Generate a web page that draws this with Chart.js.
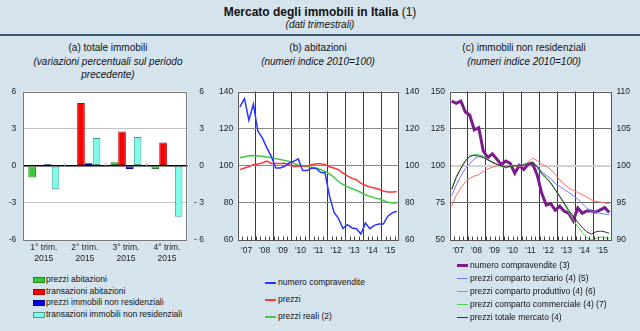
<!DOCTYPE html>
<html><head><meta charset="utf-8">
<script src="https://cdn.jsdelivr.net/npm/chart.js@4/dist/chart.umd.min.js"></script>
<style>
body{margin:0;width:640px;height:331px;background:#d5e3ed;font-family:"Liberation Sans",Arial,sans-serif;color:#111;position:relative;overflow:hidden}
canvas{position:absolute}
.t{position:absolute;white-space:nowrap;transform:translate(-50%,-50%);line-height:1}
.sep{position:absolute;left:0;top:34px;width:640px;height:2px;background:#3b5874}
.lg{position:absolute;white-space:nowrap;font-size:8.5px;line-height:1;color:#111}
.lg i{position:absolute;display:block}
</style></head><body>
<div class="t" style="left:320px;top:12px;font-size:12px;font-weight:bold">Mercato degli immobili in Italia <span style="font-weight:normal">(1)</span></div>
<div class="t" style="left:320px;top:25px;font-size:10px;font-style:italic">(dati trimestrali)</div>
<div class="sep"></div>
<div class="t" style="left:108px;top:48px;font-size:10px">(a) totale immobili</div>
<div class="t" style="left:108px;top:62px;font-size:10px;font-style:italic">(variazioni percentuali sul periodo</div>
<div class="t" style="left:108px;top:75px;font-size:10px;font-style:italic">precedente)</div>
<div class="t" style="left:318px;top:48px;font-size:10px">(b) abitazioni</div>
<div class="t" style="left:318px;top:62px;font-size:10px;font-style:italic">(numeri indice 2010=100)</div>
<div class="t" style="left:524px;top:48px;font-size:10px">(c) immobili non residenziali</div>
<div class="t" style="left:524px;top:62px;font-size:10px;font-style:italic">(numeri indice 2010=100)</div>

<canvas id="ca" width="204" height="180" style="left:0;top:85px"></canvas>
<canvas id="cb" width="220" height="180" style="left:210px;top:85px"></canvas>
<canvas id="cc" width="220" height="180" style="left:420px;top:85px"></canvas>
<div id="legends"></div>
<script>
// ---------- data ----------
const catsA = [["1° trim.","2015"],["2° trim.","2015"],["3° trim.","2015"],["4° trim.","2015"]];
const prezziAbitazioni = [-0.94, 0, 0.29, -0.27];
const transazioniAbitazioni = [0, 5.07, 2.76, 1.88];
const prezziNonRes = [0.13, 0.21, -0.27, -0.05];
const transazioniNonRes = [-1.9, 2.25, 2.33, -4.13];
const ticksA = [-6, -3, 0, 3, 6];

const years = ['2007','2008','2009','2010','2011','2012','2013','2014','2015'];
const quarters = years.flatMap(y => ['I','II','III','IV'].map(q => q + ' ' + y));

const compravenditeAb = [131.7,136.2,124.5,133.3,118.6,115.0,109.6,105.1,98.8,98.8,99.7,101.5,102.4,103.7,97.4,97.4,98.8,98.5,96.5,96.1,83.5,75.0,71.5,66.2,68.3,66.5,66.1,63.2,69.2,66.1,67.9,68.6,68.6,72.8,74.6,75.5];
const prezziAb = [97.9,98.8,99.6,100.5,101.0,101.5,102.5,101.2,101.2,101.2,101.3,100.5,99.6,99.7,99.8,99.8,100.5,101.1,101.1,100.6,99.5,98.8,97.9,96.0,94.5,93.2,92.5,90.5,89.5,88.6,88.0,87.3,86.4,85.9,85.9,86.0];
const prezziRealiAb = [104.3,104.8,105.4,105.5,105.3,105.1,104.7,104.3,103.8,103.4,102.9,102.3,101.2,100.4,100.0,99.6,99.2,98.8,98.0,97.0,95.6,93.8,91.5,89.8,88.6,87.6,86.8,85.6,84.4,83.5,82.7,82.2,81.3,80.3,80.0,80.0];

const compravenditeNR = [143.5,142.0,143.6,136.4,134.0,124.2,125.6,110.0,105.5,108.0,104.5,100.7,103.2,101.6,95.0,100.2,97.4,101.2,101.2,93.7,81.4,73.5,74.5,70.0,72.8,69.4,68.0,62.9,71.6,68.0,69.6,69.6,68.7,70.3,71.8,68.5];
const prezziTerziario = [96.0,97.4,98.6,99.6,100.3,100.9,101.3,101.2,100.8,100.4,100.2,100.0,99.8,100.0,100.0,100.1,100.2,100.3,100.5,100.0,99.2,98.7,98.3,97.6,97.2,96.8,96.4,96.0,95.5,94.9,94.3,93.9,93.7,93.6,93.5,93.4];
const prezziProduttivo = [94.6,96.0,97.0,97.8,98.3,98.6,98.8,99.2,99.6,99.8,100.0,100.0,100.0,100.0,100.0,99.9,100.0,100.5,101.0,100.7,100.2,99.9,99.5,98.8,98.1,97.5,97.0,96.7,96.4,96.1,95.8,95.4,95.2,95.1,95.0,94.9];
const prezziCommerciale = [97.0,98.6,99.7,100.7,101.2,101.5,101.5,101.3,100.9,100.5,100.2,99.9,99.7,99.9,100.0,100.0,100.1,100.3,100.5,99.8,98.8,98.3,97.6,96.7,95.8,94.8,93.7,92.7,91.8,91.0,90.3,90.0,90.2,90.4,90.3,90.2];
const prezziTotale = [96.8,98.4,99.6,100.6,101.3,101.4,101.3,101.1,100.8,100.5,100.2,100.0,99.8,99.9,100.0,100.0,100.1,100.3,100.5,99.8,99.0,98.4,97.7,96.8,95.9,95.0,94.0,93.2,92.4,91.7,91.1,90.8,91.1,91.2,91.1,90.9];

// ---------- setup ----------
Chart.defaults.font.family = '"Liberation Sans", Arial, sans-serif';
Chart.defaults.font.size = 8.5;
Chart.defaults.color = '#222';
Chart.defaults.animation = false;

const fixW = w => s => { s.width = w; s.paddingTop = 0; s.paddingBottom = 0; };
const fixH = h => s => { s.height = h; };

const frame = {
  id: 'frame',
  beforeDraw(chart) {
    const {ctx, chartArea: a} = chart;
    ctx.save(); ctx.fillStyle = '#fff'; ctx.fillRect(a.left, a.top, a.width, a.height); ctx.restore();
  },
  afterDraw(chart, args, opts) {
    const {ctx, chartArea: a} = chart;
    const xs = chart.scales.x;
    ctx.save();
    ctx.lineWidth = 1;
    const n = xs.ticks.length;
    const bounds = [];
    for (let i = 1; i < n; i++) bounds.push((xs.getPixelForValue(i - 1) + xs.getPixelForValue(i)) / 2);
    if (opts.qticks) {
      ctx.strokeStyle = '#444'; ctx.beginPath();
      bounds.forEach(b => { const x = Math.round(b) + 0.5; ctx.moveTo(x, a.bottom); ctx.lineTo(x, a.bottom - 3.5); });
      ctx.stroke();
    }
    if (opts.zeroTicks) {
      const y0 = chart.scales.y.getPixelForValue(0);
      ctx.strokeStyle = '#bbb'; ctx.beginPath();
      bounds.forEach(b => { const x = Math.round(b) + 0.5; ctx.moveTo(x, y0); ctx.lineTo(x, y0 - 3); });
      ctx.stroke();
    }
    ctx.strokeStyle = opts.color || '#666';
    ctx.strokeRect(Math.round(a.left) + 0.5, Math.round(a.top) + 0.5, Math.round(a.width) - 1, Math.round(a.height) - 1);
    ctx.restore();
  }
};

// ---------- panel a ----------
const dsA = [
  {label: 'prezzi abitazioni', data: prezziAbitazioni, backgroundColor: '#36c936', borderColor: '#1f8a1f'},
  {label: 'transazioni abitazioni', data: transazioniAbitazioni, backgroundColor: '#ff0000', borderColor: '#b00000'},
  {label: 'prezzi immobili non residenziali', data: prezziNonRes, backgroundColor: '#0000ee', borderColor: '#000090'},
  {label: 'transazioni immobili non residenziali', data: transazioniNonRes, backgroundColor: '#80fbe8', borderColor: '#3f9e92'}
];
new Chart(document.getElementById('ca'), {
  type: 'bar',
  data: {labels: catsA, datasets: dsA.map(d => Object.assign({borderWidth: 1, borderSkipped: false, categoryPercentage: 0.76, barPercentage: 0.98}, d))},
  options: {
    responsive: false, devicePixelRatio: 1,
    layout: {padding: {top: 6.5, left: 0, right: 0, bottom: 0}},
    plugins: {legend: {display: false}, tooltip: {enabled: false}, frame: {color: '#777', zeroTicks: true}},
    scales: {
      x: {grid: {display: false, drawTicks: false}, border: {display: false}, ticks: {padding: 2, maxRotation: 0, font: {size: 8.5, lineHeight: 1.3}}, afterFit: fixH(25)},
      y: {position: 'left', min: -6, max: 6, afterBuildTicks: s => { s.ticks = ticksA.map(v => ({value: v})); },
          grid: {drawTicks: false, color: c => c.tick.value === 0 ? '#000' : (Math.abs(c.tick.value) === 6 ? 'rgba(0,0,0,0)' : '#c4c4c4'), lineWidth: c => c.tick.value === 0 ? 1.5 : 1},
          border: {display: false}, ticks: {padding: 7}, afterFit: fixW(23.3)},
      y2: {position: 'right', min: -6, max: 6, afterBuildTicks: s => { s.ticks = ticksA.map(v => ({value: v})); },
          grid: {display: false, drawTicks: false}, border: {display: false},
          ticks: {crossAlign: 'far', callback: v => v < 0 ? '- ' + Math.abs(v) : String(v)}, afterFit: fixW(16.5)}
    }
  },
  plugins: [frame]
});

// ---------- line panels ----------
function xAxis() {
  return {
    offset: true,
    grid: {offset: true, drawTicks: false, color: c => (c.index % 4 === 0 && c.index > 0 && c.index < quarters.length) ? '#3a3a3a' : 'rgba(0,0,0,0)', lineWidth: 1},
    border: {display: false},
    ticks: {autoSkip: false, maxRotation: 0, padding: 6, labelOffset: 2.24,
            callback: (v, i) => i % 4 === 1 ? "'" + quarters[i].slice(-2) : ''},
    afterFit: fixH(25)
  };
}

const dsB = [
  {label: 'numero compravendite', data: compravenditeAb, borderColor: '#2a36ff', borderWidth: 1.5},
  {label: 'prezzi', data: prezziAb, borderColor: '#ff3535', borderWidth: 1.5},
  {label: 'prezzi reali (2)', data: prezziRealiAb, borderColor: '#3ccc3c', borderWidth: 1.5}
];
new Chart(document.getElementById('cb'), {
  type: 'line',
  data: {labels: quarters, datasets: dsB.map(d => Object.assign({pointRadius: 0, tension: 0, fill: false}, d))},
  options: {
    responsive: false, devicePixelRatio: 1,
    layout: {padding: {top: 6.5, left: 0, right: 0, bottom: 0}},
    plugins: {legend: {display: false}, tooltip: {enabled: false}, frame: {color: '#555', qticks: true}},
    scales: {
      x: xAxis(),
      y: {position: 'left', min: 60, max: 140, ticks: {stepSize: 20, padding: 4.5},
          grid: {drawTicks: false, color: c => (c.tick.value === 60 || c.tick.value === 140) ? 'rgba(0,0,0,0)' : '#8a8a8a'},
          border: {display: false}, afterFit: fixW(27.7)},
      y2: {position: 'right', min: 60, max: 140, ticks: {stepSize: 20, padding: 6}, grid: {display: false, drawTicks: false}, border: {display: false}, afterFit: fixW(31)}
    }
  },
  plugins: [frame]
});

const dsC = [
  {label: 'numero compravendite (3)', data: compravenditeNR, borderColor: '#7b1b8c', borderWidth: 3, yAxisID: 'y'},
  {label: 'prezzi comparto terziario (4) (5)', data: prezziTerziario, borderColor: '#6b78ff', borderWidth: 1, yAxisID: 'y2'},
  {label: 'prezzi comparto produttivo (4) (6)', data: prezziProduttivo, borderColor: '#ff6a6a', borderWidth: 1, yAxisID: 'y2'},
  {label: 'prezzi comparto commerciale (4) (7)', data: prezziCommerciale, borderColor: '#4ccf4c', borderWidth: 1, yAxisID: 'y2'},
  {label: 'prezzi totale mercato (4)', data: prezziTotale, borderColor: '#333333', borderWidth: 1, yAxisID: 'y2'}
];
new Chart(document.getElementById('cc'), {
  type: 'line',
  data: {labels: quarters, datasets: dsC.map(d => Object.assign({pointRadius: 0, tension: 0, fill: false}, d)).reverse()},
  options: {
    responsive: false, devicePixelRatio: 1,
    layout: {padding: {top: 6.5, left: 0, right: 0, bottom: 0}},
    plugins: {legend: {display: false}, tooltip: {enabled: false}, frame: {color: '#555', qticks: true}},
    scales: {
      x: xAxis(),
      y: {position: 'left', min: 50, max: 150, ticks: {stepSize: 25, padding: 4.5},
          grid: {drawTicks: false, color: c => c.tick.value === 100 ? '#d2d2d2' : ((c.tick.value === 50 || c.tick.value === 150) ? 'rgba(0,0,0,0)' : '#6a6a6a'), lineWidth: c => c.tick.value === 100 ? 2 : 1},
          border: {display: false}, afterFit: fixW(29.5)},
      y2: {position: 'right', min: 90, max: 110, ticks: {stepSize: 5, padding: 5}, grid: {display: false, drawTicks: false}, border: {display: false}, afterFit: fixW(28.5)}
    }
  },
  plugins: [frame]
});

// ---------- legends (HTML text) ----------
const L = document.getElementById('legends');
function addItem(x, y, label, mark) {
  const d = document.createElement('div');
  d.className = 'lg';
  d.style.left = (x + 13) + 'px';
  d.style.top = Math.round(y - 4.5) + 'px';
  d.textContent = label;
  const m = document.createElement('i');
  Object.assign(m.style, mark);
  d.appendChild(m);
  L.appendChild(d);
}
[279, 291, 302.5, 314].forEach((y, i) => {
  const d = dsA[i];
  addItem(33, y, d.label, {left: '-13px', top: '2px', width: '10px', height: '4px', background: d.backgroundColor, border: '1px solid ' + d.borderColor});
});
[282, 299, 316].forEach((y, i) => {
  const d = dsB[i];
  addItem(265, y, d.label, {left: '-13px', top: '4px', width: '11px', height: '2px', background: d.borderColor});
});
[265, 278.5, 291, 304, 317].forEach((y, i) => {
  const d = dsC[i];
  const h = d.borderWidth === 3 ? 3 : 1;
  addItem(457, y, d.label, {left: '-13px', top: (h === 3 ? 3 : 4) + 'px', width: '11px', height: h + 'px', background: d.borderColor});
});
</script>
</body></html>
